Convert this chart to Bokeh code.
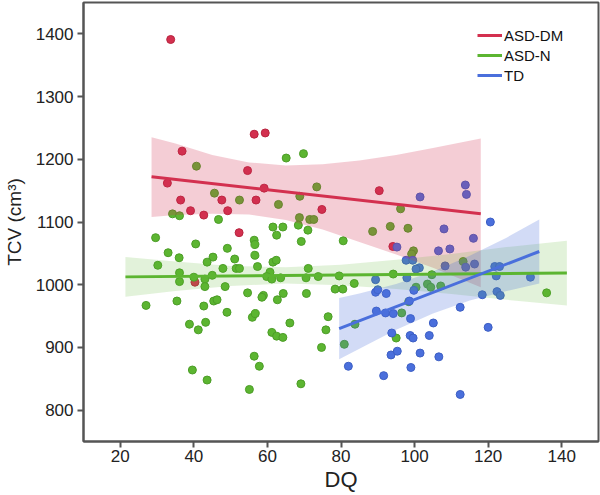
from bokeh.plotting import figure
from bokeh.models import FixedTicker, Range1d
from bokeh.embed import file_html
from bokeh.resources import INLINE

# ASD-DM points (DQ, TCV)
dm_dq = [33.7, 56.4, 59.4, 36.8, 32.8, 54.6, 59.1, 36.4, 47.6, 56.9,
         74.8, 39.1, 42.7, 49.2, 52.3, 40.3, 90.4, 94.1]
dm_tcv = [1391, 1240, 1242, 1213, 1162, 1182, 1154, 1135, 1135, 1135,
          1120, 1118, 1111, 1118, 1083, 1004, 1150, 1061]

# ASD-N points
n_dq = [40.7, 65.1, 69.8, 73.4, 45.6, 52.4, 63.0, 68.8, 34.2, 36.1,
        68.7, 71.5, 72.6, 46.7, 29.6, 56.4, 56.6, 40.5, 49.1, 33.0,
        36.0, 45.2, 43.6, 51.1, 56.6, 30.2, 47.9, 51.5, 52.4, 57.3,
        36.1, 36.1, 40.0, 43.0, 43.0, 45.0, 48.5, 54.6, 27.0, 35.4,
        42.7, 45.4, 46.3, 49.0, 55.9, 56.7, 38.8, 43.2, 41.2, 56.4,
        57.8, 39.6, 43.6, 55.1, 69.1, 96.2, 61.5, 64.2, 68.4, 71.0,
        62.5, 88.6, 93.4, 98.2, 69.2, 80.6, 99.7, 99.2, 61.5, 62.4,
        71.1, 60.7, 59.8, 61.2, 63.6, 70.5, 73.8, 79.5, 83.6, 78.4,
        80.5, 94.2, 98.4, 58.9, 58.5, 64.3, 70.6, 62.7, 66.1, 76.5,
        75.9, 61.2, 62.5, 64.2, 96.5, 83.8, 80.9, 74.7, 95.0, 113.2,
        104.7, 103.5, 104.4, 107.1, 100.4, 135.9]
n_tcv = [1189, 1202, 1209, 1156, 1146, 1135, 1128, 1141, 1113, 1110,
         1107, 1104, 1104, 1104, 1075, 1071, 1064, 1065, 1058, 1051,
         1043, 1044, 1036, 1041, 1047, 1031, 1026, 1026, 1026, 1029,
         1019, 1005, 1012, 1009, 997, 1015, 997, 987, 967, 974,
         966, 974, 976, 956, 948, 954, 937, 940, 928, 886,
         870, 864, 848, 833, 842, 1121, 1092, 1092, 1095, 1087,
         1079, 1085, 1093, 1090, 1069, 1070, 1054, 1049, 1036, 1039,
         1026, 1020, 1013, 1009, 1011, 1011, 1013, 1014, 1002, 993,
         993, 1017, 973, 983, 980, 986, 986, 976, 939, 949,
         928, 924, 918, 916, 955, 937, 905, 900, 915, 1037,
         1016, 1001, 996, 998, 996, 987]

# TD points
td_dq = [101.5, 113.8, 114.1, 120.6, 108.0, 116.0, 106.5, 109.6, 95.2, 97.7,
         99.5, 101.3, 108.3, 113.9, 116.3, 121.8, 123.1, 122.2, 131.5, 97.9,
         100.4, 89.4, 89.4, 90.0, 92.3, 99.8, 98.6, 118.4, 122.4, 123.3,
         112.4, 89.6, 92.1, 94.2, 98.9, 105.1, 120.0, 93.8, 98.8, 99.6,
         104.0, 93.6, 95.3, 101.5, 106.6, 99.0, 82.0, 91.6, 112.4]
td_tcv = [1140, 1159, 1144, 1100, 1089, 1074, 1054, 1057, 1060, 1039,
          1039, 1027, 1030, 1028, 1033, 1029, 1029, 1014, 1012, 1011,
          1025, 1008, 988, 992, 986, 991, 974, 984, 989, 983,
          964, 958, 955, 954, 946, 939, 932, 923, 919, 915,
          919, 888, 894, 891, 885, 868, 870, 855, 825]

# fit lines and confidence bands
dm_fit_dq = [28.5, 118]
dm_fit_tcv = [1172, 1113]
dm_band_dq = [28.5, 35, 45, 55, 65, 75, 85, 95, 105, 118]
dm_band_hi = [1235, 1225, 1207, 1195, 1190, 1192, 1198, 1207, 1218, 1233]
dm_band_lo = [1108, 1111, 1113, 1112, 1103, 1088, 1068, 1048, 1027, 996]

n_fit_dq = [21.4, 141.4]
n_fit_tcv = [1012.5, 1018.5]
n_band_dq = [21.4, 35, 50, 65, 80, 95, 110, 125, 141.4]
n_band_hi = [1044, 1037, 1030, 1028, 1032, 1040, 1049, 1060, 1070]
n_band_lo = [981, 990, 998, 1002, 999, 993, 985, 976, 967]

td_fit_dq = [79.5, 133.9]
td_fit_tcv = [930, 1053]
td_band_dq = [79.5, 85, 95, 105, 115, 125, 133.9]
td_band_hi = [979, 986, 1001, 1021, 1046, 1075, 1104]
td_band_lo = [881, 898, 928, 954, 975, 990, 1002]

x_ticks = [20, 40, 60, 80, 100, 120, 140]
y_ticks = [800, 900, 1000, 1100, 1200, 1300, 1400]

red = "#d3304f"
green = "#5cb531"
blue = "#4a6fdc"
font = "Liberation Sans"

p = figure(width=600, height=495, x_range=Range1d(10, 150), y_range=Range1d(750, 1450),
           output_backend="svg", toolbar_location=None,
           min_border_left=83, min_border_right=2, min_border_top=2, min_border_bottom=54)

# points first, bands are drawn over them
p.scatter(dm_dq, dm_tcv, size=8, fill_color=red, line_color="#b8243f", line_width=1)
p.scatter(n_dq, n_tcv, size=8, fill_color=green, line_color="#4c9d27", line_width=1)
p.scatter(td_dq, td_tcv, size=8, fill_color=blue, line_color="#3d5fc4", line_width=1)

p.varea(x=dm_band_dq, y1=dm_band_lo, y2=dm_band_hi, fill_color=red, fill_alpha=0.24)
p.varea(x=n_band_dq, y1=n_band_lo, y2=n_band_hi, fill_color=green, fill_alpha=0.18)
p.varea(x=td_band_dq, y1=td_band_lo, y2=td_band_hi, fill_color=blue, fill_alpha=0.25)

p.line(dm_fit_dq, dm_fit_tcv, line_color=red, line_width=3, legend_label="ASD-DM")
p.line(n_fit_dq, n_fit_tcv, line_color=green, line_width=3, legend_label="ASD-N")
p.line(td_fit_dq, td_fit_tcv, line_color=blue, line_width=3, legend_label="TD")

p.xgrid.visible = False
p.ygrid.visible = False
p.outline_line_color = "#555555"
p.outline_line_width = 2
p.outline_line_alpha = 1

p.xaxis.ticker = FixedTicker(ticks=x_ticks)
p.yaxis.ticker = FixedTicker(ticks=y_ticks)
p.xaxis.axis_label = "DQ"
p.yaxis.axis_label = "TCV (cm³)"
for ax in (p.xaxis, p.yaxis):
    ax.axis_line_color = "#555555"
    ax.axis_line_width = 2
    ax.major_tick_line_color = "#555555"
    ax.major_tick_line_width = 2
    ax.major_tick_out = 6
    ax.major_tick_in = 0
    ax.minor_tick_line_color = None
    ax.major_label_text_font = font
    ax.major_label_text_font_size = "17px"
    ax.major_label_text_color = "#222222"
    ax.major_label_standoff = 2
    ax.axis_label_text_font = font
    ax.axis_label_text_font_style = "normal"
    ax.axis_label_text_color = "#222222"
    ax.axis_label_standoff = 2
p.yaxis.major_label_standoff = 4
p.yaxis.axis_label_standoff = 8
p.xaxis.axis_label_text_font_size = "22px"
p.yaxis.axis_label_text_font_size = "19px"

# legend box placed from the frame's bottom-left corner
p.legend.location = (394, 356)
p.legend.padding = 0
p.legend.spacing = 0
p.legend.label_height = 20
p.legend.glyph_height = 20
p.legend.glyph_width = 25
p.legend.label_standoff = 2
p.legend.label_text_font = font
p.legend.label_text_font_size = "15px"
p.legend.label_text_color = "#111111"
p.legend.border_line_alpha = 0
p.legend.background_fill_alpha = 0

open("out.html", "w").write(file_html(p, INLINE))
